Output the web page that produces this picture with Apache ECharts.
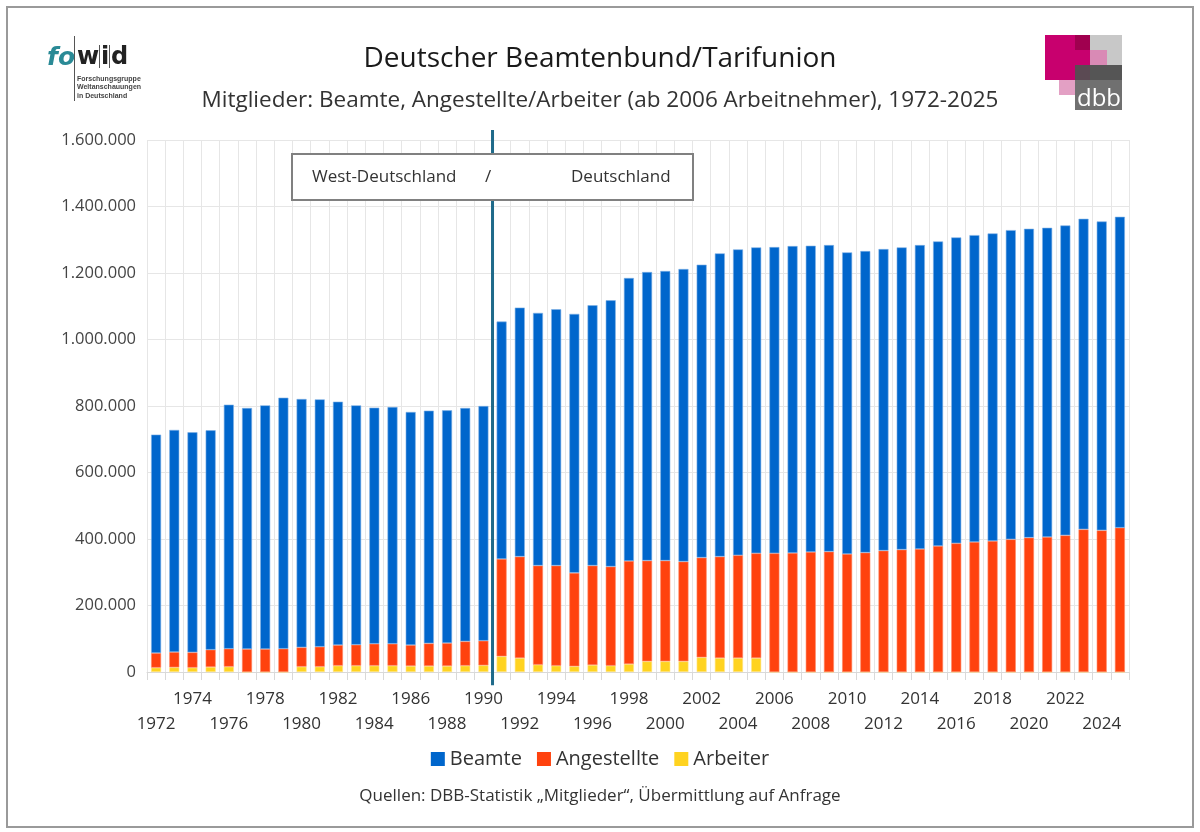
<!DOCTYPE html>
<html><head><meta charset="utf-8">
<script src="https://cdn.jsdelivr.net/npm/echarts@6/dist/echarts.min.js"></script>
<style>html,body{margin:0;padding:0;background:#fff}#c{width:1200px;height:832px}</style>
</head><body><div id="c"></div>
<script>
const years = [];
for (let y = 1972; y <= 2025; y++) years.push(String(y));

const beamte = [657000,668000,662000,660000,734000,725000,733000,755000,747000,744000,
732000,720000,710000,712000,701000,700000,700000,702000,706000,
714000,749000,760000,771000,779000,783000,801000,851000,868000,871000,880000,
881000,912000,920000,920000,921000,923000,921000,922000,907000,907000,
907000,909000,914000,916000,920000,923000,925000,930000,929000,930000,
932000,934000,929000,935000];
const angestellte = [44000,46000,46000,52000,54000,69000,69000,70000,58000,60000,
62000,63000,66000,66000,63000,68000,69000,73000,74000,
293000,305000,298000,301000,281000,299000,298000,310000,303000,303000,300000,
300000,305000,309000,315000,357000,358000,361000,362000,355000,359000,
365000,368000,370000,379000,387000,391000,394000,399000,404000,406000,
411000,429000,426000,434000];
const arbeiter = [13000,14000,13000,15000,16000,0,0,0,16000,16000,
19000,19000,19000,19000,18000,18000,18000,19000,20000,
47000,42000,22000,19000,17000,21000,19000,24000,32000,32000,32000,
44000,42000,42000,42000,0,0,0,0,0,0,
0,0,0,0,0,0,0,0,0,0,
0,0,0,0];
const yTicks = [0,200000,400000,600000,800000,1000000,1200000,1400000,1600000];
const divider = [[19,-40000],[19,1630000]];

function de(v){return String(v).replace(/\B(?=(\d{3})+(?!\d))/g,'.');}
const F = "'Open Sans', sans-serif";
const chart = echarts.init(document.getElementById('c'));
const barCommon = {type:'bar', stack:'t', barWidth:10, xAxisIndex:0, yAxisIndex:0};
chart.setOption({
  animation:false,
  textStyle:{fontFamily:F},
  title:[
    {text:'Deutscher Beamtenbund/Tarifunion', left:'center', top:40,
     textStyle:{fontFamily:F,fontSize:28,fontWeight:'normal',color:'#1a1a1a'}},
    {text:'Mitglieder: Beamte, Angestellte/Arbeiter (ab 2006 Arbeitnehmer), 1972-2025', left:'center', top:84,
     textStyle:{fontFamily:F,fontSize:22.5,fontWeight:'normal',color:'#333'}},
    {text:'Quellen: DBB-Statistik \u201eMitglieder\u201c, \u00dcbermittlung auf Anfrage', left:'center', top:783,
     textStyle:{fontFamily:F,fontSize:17,fontWeight:'normal',color:'#333'}}
  ],
  legend:{data:['Beamte','Angestellte','Arbeiter'], left:'center', top:744, itemWidth:14, itemHeight:14, itemGap:15,
    icon:'rect', itemStyle:{borderWidth:0}, textStyle:{fontFamily:F,fontSize:20,color:'#333'}},
  grid:{left:147, right:71, top:140, bottom:160},
  xAxis:[
    {type:'category', data:years, boundaryGap:true, position:'bottom',
     axisLine:{show:true,lineStyle:{color:'#d9d9d9'}},
     axisTick:{show:true, interval:0, length:8, lineStyle:{color:'#d9d9d9'}},
     splitLine:{show:true, interval:0, lineStyle:{color:'#e6e6e6'}},
     axisLabel:{interval:function(i){return i%4===2;}, margin:15, fontFamily:F, fontSize:17, color:'#333', lineHeight:25}},
    {type:'category', data:years, boundaryGap:true, position:'bottom',
     axisLine:{show:false}, axisTick:{show:false}, splitLine:{show:false},
     axisLabel:{interval:function(i){return i%4===0;}, margin:40, fontFamily:F, fontSize:17, color:'#333', lineHeight:25}},
    {type:'value', min:0, max:54, show:false}
  ],
  yAxis:{type:'value', min:0, max:1600000, interval:200000,
    axisLine:{show:false}, axisTick:{show:false},
    splitLine:{lineStyle:{color:'#e6e6e6'}},
    axisLabel:{fontFamily:F, fontSize:16.5, color:'#444', margin:11,
      formatter:function(v){return yTicks.indexOf(v)>=0 ? de(v) : '';}}},
  series:[
    Object.assign({name:'Arbeiter', data:arbeiter, itemStyle:{color:'#ffd320', borderColor:'#ffe48a', borderWidth:0.6}}, barCommon),
    Object.assign({name:'Angestellte', data:angestellte, itemStyle:{color:'#ff420e', borderColor:'#ff8a66', borderWidth:0.6}}, barCommon),
    Object.assign({name:'Beamte', data:beamte, itemStyle:{color:'#0066cc', borderColor:'#7fb2e5', borderWidth:0.6}}, barCommon),
    {name:'divider', type:'line', xAxisIndex:2, yAxisIndex:0, data:divider, clip:false, symbol:'none',
     silent:true, lineStyle:{color:'#1f6a8a', width:3}, z:5}
  ],
  graphic:[
    {type:'rect', shape:{x:7,y:7,width:1186,height:820}, style:{fill:'none',stroke:'#9a9a9a',lineWidth:2}, z:0},
    {type:'rect', shape:{x:292,y:154,width:401,height:46}, style:{fill:'#fff',stroke:'#808080',lineWidth:2}, z:10},
    {type:'text', x:312, y:177, style:{text:'West-Deutschland', font:"17px 'Open Sans'", fill:'#333', verticalAlign:'middle'}, z:11},
    {type:'text', x:485, y:177, style:{text:'/', font:"17px 'Open Sans'", fill:'#333', verticalAlign:'middle'}, z:11},
    {type:'text', x:571, y:177, style:{text:'Deutschland', font:"17px 'Open Sans'", fill:'#333', verticalAlign:'middle'}, z:11},
    // fowid logo
    {type:'text', x:47, y:58, style:{text:'fo', font:"italic bold 25px 'DejaVu Sans'", fill:'#2a8a96', verticalAlign:'middle'}, z:11},
    {type:'text', x:77, y:58, style:{text:'w', font:"bold 24px 'DejaVu Sans'", fill:'#222', verticalAlign:'middle'}, z:11},
    {type:'text', x:101, y:58, style:{text:'i', font:"bold 24px 'DejaVu Sans'", fill:'#222', verticalAlign:'middle'}, z:11},
    {type:'text', x:111, y:58, style:{text:'d', font:"bold 24px 'DejaVu Sans'", fill:'#222', verticalAlign:'middle'}, z:11},
    {type:'rect', shape:{x:74,y:36,width:1,height:65}, style:{fill:'#555'}, z:11},
    {type:'rect', shape:{x:99,y:45,width:1,height:23}, style:{fill:'#555'}, z:11},
    {type:'rect', shape:{x:109,y:45,width:1,height:23}, style:{fill:'#555'}, z:11},
    {type:'text', x:77, y:79, style:{text:'Forschungsgruppe', font:"bold 7px 'Liberation Sans Narrow', 'Liberation Sans'", fill:'#444', verticalAlign:'middle'}, z:11},
    {type:'text', x:77, y:87, style:{text:'Weltanschauungen', font:"bold 7px 'Liberation Sans Narrow', 'Liberation Sans'", fill:'#444', verticalAlign:'middle'}, z:11},
    {type:'text', x:77, y:96, style:{text:'in Deutschland', font:"bold 7px 'Liberation Sans Narrow', 'Liberation Sans'", fill:'#444', verticalAlign:'middle'}, z:11},
    // dbb logo
    {type:'rect', shape:{x:1045,y:35,width:45,height:45}, style:{fill:'#c8006e'}, z:11},
    {type:'rect', shape:{x:1090,y:35,width:32,height:30}, style:{fill:'#c8c8c8'}, z:11},
    {type:'rect', shape:{x:1075,y:35,width:15,height:15}, style:{fill:'#a0004f'}, z:11},
    {type:'rect', shape:{x:1090,y:50,width:17,height:15}, style:{fill:'#d98ab5'}, z:11},
    {type:'rect', shape:{x:1059,y:80,width:16,height:15}, style:{fill:'#e3a0c4'}, z:11},
    {type:'rect', shape:{x:1075,y:65,width:47,height:45}, style:{fill:'#707070'}, z:11},
    {type:'rect', shape:{x:1075,y:65,width:47,height:15}, style:{fill:'#555555'}, z:11},
    {type:'rect', shape:{x:1075,y:65,width:15,height:15}, style:{fill:'#5b4a53'}, z:11},
    {type:'text', x:1099, y:99, style:{text:'dbb', font:"24px 'Open Sans'", fill:'#fff', align:'center', verticalAlign:'middle'}, z:12}
  ]
});
</script></body></html>
